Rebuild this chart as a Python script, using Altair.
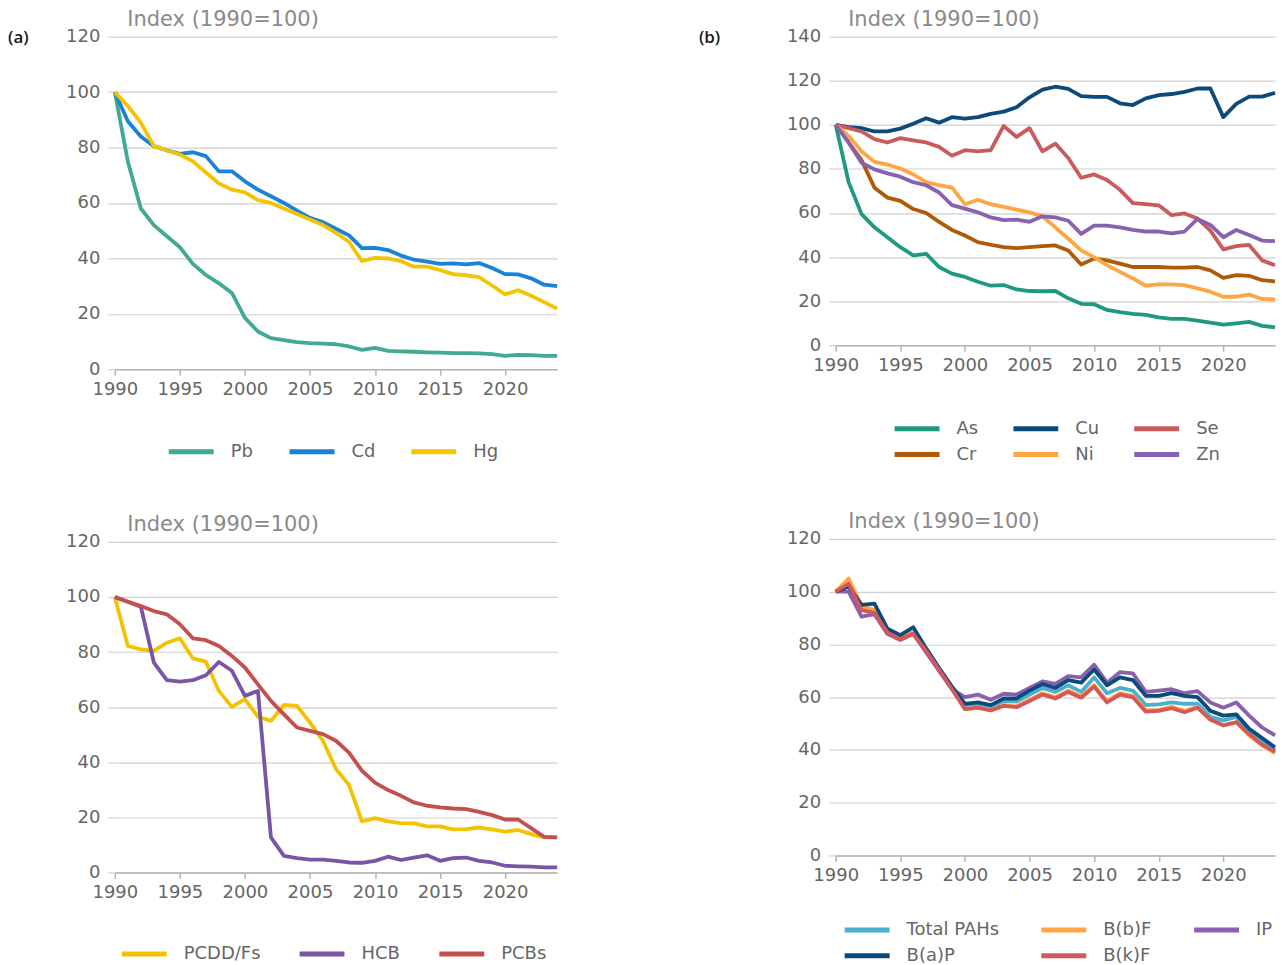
import altair as alt
import pandas as pd

years = list(range(1990, 2025))

# ---------- Panel (a): heavy metals ----------
a_series = ["Pb", "Cd", "Hg"]
a_colors = ["#42a994", "#1a82d9", "#f5c400"]
pb = [100, 75, 58, 52, 48, 44, 38, 34, 31, 27.5, 18.5, 13.6, 11.2, 10.5, 9.8, 9.4, 9.2, 9.0, 8.2, 7.0,
      7.7, 6.6, 6.4, 6.3, 6.1, 6.0, 5.8, 5.8, 5.7, 5.4, 4.8, 5.2, 5.1, 4.8, 4.8]
cd = [100, 89.5, 84, 80.5, 79, 77.7, 78.3, 76.9, 71.4, 71.4, 67.8, 64.8, 62.4, 60, 57.2, 54.6, 53.1, 50.7, 48.3, 43.7,
      43.8, 43, 41, 39.5, 38.8, 38, 38.2, 37.8, 38.3, 36.5, 34.3, 34.2, 32.8, 30.5, 30]
hg = [100, 95, 89, 80.5, 79, 77.5, 75, 71, 67, 64.8, 63.8, 61, 60, 58, 56, 54, 52, 49.2, 46, 39,
      40.2, 40, 39, 37, 37, 35.8, 34.3, 33.9, 33.2, 30.2, 27, 28.5, 26.5, 24.2, 21.8]

# ---------- Panel (b): other metals ----------
b_series = ["As", "Cu", "Se", "Cr", "Ni", "Zn"]
b_colors = ["#1f9a80", "#0d4a7c", "#c95b5d", "#b05a08", "#ffa542", "#8862b0"]
as_ = [100, 74, 59.5, 53.5, 49, 44.5, 40.8, 41.5, 35.5, 32.5, 31, 28.8, 27, 27.3, 25.3, 24.6, 24.5, 24.6, 21.3, 18.8,
       18.6, 16, 15, 14.2, 13.8, 12.6, 12, 12, 11.2, 10.3, 9.3, 9.9, 10.6, 8.8, 8.1]
cu = [100, 99, 98.5, 97, 97, 98.3, 100.5, 103, 101, 103.5, 102.8, 103.5, 105, 106, 108, 112.5, 116, 117.3, 116.3, 113,
      112.7, 112.7, 109.8, 109, 112, 113.5, 114, 115, 116.5, 116.5, 103.5, 109.5, 112.8, 112.8, 114.5]
se = [100, 98.5, 97, 93.5, 92, 94, 93, 92, 90, 86, 88.5, 88, 88.5, 99.5, 94.5, 98.5, 88, 91.5, 85, 76,
      77.5, 75, 70.5, 64.5, 64, 63.5, 59, 59.8, 57.5, 52, 43.5, 45, 45.5, 38.5, 36.3]
cr = [100, 92, 84, 71.5, 67, 65.5, 61.8, 60, 56, 52.3, 49.8, 46.8, 45.6, 44.5, 44.1, 44.5, 45, 45.3, 43, 36.6,
      39.3, 38.5, 37, 35.5, 35.5, 35.5, 35.2, 35.2, 35.5, 34, 30.6, 31.8, 31.5, 29.5, 29]
ni = [100, 95, 88, 83.2, 82, 80.2, 77.5, 74, 72.6, 71.5, 64, 66, 64, 62.8, 61.5, 60.3, 58.5, 53.5, 48.3, 43,
      40, 36.3, 33.3, 30.3, 27, 27.6, 27.6, 27.3, 25.8, 24.3, 22, 22, 23, 21, 20.8]
zn = [100, 92, 82.8, 79.8, 78, 76.5, 74, 72.6, 69.3, 63.6, 62, 60.3, 58, 56.8, 57, 56, 58.5, 58, 56.5, 50.5,
      54.3, 54.3, 53.5, 52.3, 51.6, 51.6, 50.8, 51.6, 57.3, 54.6, 49, 52.3, 50, 47.5, 47.2]

# ---------- Panel (c): POPs ----------
c_series = ["PCDD/Fs", "HCB", "PCBs"]
c_colors = ["#f3c300", "#7a54a6", "#c4504e"]
pcdd = [100, 82.2, 81, 80.4, 83.4, 85, 77.7, 76.5, 65.9, 60.1, 62.9, 56.5, 55, 60.8, 60.5, 54.4, 47.8, 37.5, 31.8, 18.5,
        19.7, 18.5, 17.9, 17.8, 16.7, 16.7, 15.6, 15.7, 16.3, 15.6, 14.8, 15.4, 13.9, 12.7, 12.7]
hcb = [100, 98.3, 96.5, 76.2, 69.8, 69.3, 69.8, 71.6, 76.4, 73.2, 64.1, 65.9, 12.7, 6, 5.2, 4.6, 4.6, 4.2, 3.6, 3.5,
       4.2, 5.7, 4.5, 5.4, 6.2, 4.2, 5.2, 5.4, 4.2, 3.6, 2.4, 2.2, 2.1, 1.8, 1.8]
pcbs = [100, 98.3, 96.7, 94.9, 93.7, 90.1, 85, 84.3, 82.2, 78.6, 74.4, 68.3, 62.3, 57.4, 52.6, 51.4, 50.2, 47.8, 43.5, 36.9,
        32.6, 29.9, 27.8, 25.4, 24.2, 23.6, 23.2, 23, 22, 20.8, 19.2, 19.2, 16.1, 12.9, 12.7]

# ---------- Panel (d): PAHs ----------
d_series = ["Total PAHs", "B(b)F", "IP", "B(a)P", "B(k)F"]
d_colors = ["#4bb0cc", "#ffa542", "#8a60ae", "#0d4a7c", "#d4585a"]
total_pahs = [100, 103, 93, 93, 85, 82.5, 84.5, 78, 71, 63.5, 57, 57.5, 56.5, 58.5, 58.3, 61, 63.5, 62, 64.5, 62,
              67.5, 61.5, 63.5, 62.5, 57, 57.3, 58, 57.5, 57.5, 52.5, 51.2, 52.5, 47, 43.5, 40]
bbf = [100, 105, 94.5, 93, 85, 82.5, 84.5, 77.5, 70.5, 63, 55.5, 56, 55, 57, 56.5, 59, 61.5, 60, 62.5, 60.3,
       64.5, 58.5, 61.5, 60.5, 55, 55.2, 56.3, 54.8, 56.3, 51.5, 49.3, 50.5, 45.5, 41.8, 38.8]
ip = [100, 100, 90.5, 91.5, 84, 81.7, 84, 77, 70, 63, 60, 61, 59, 61.3, 61, 63.5, 66, 65, 68, 67.5,
      72.3, 65.5, 69.5, 69, 62, 62.5, 63, 61.5, 62.3, 58, 56, 58, 53, 48.5, 45.5]
bap = [100, 102, 95, 95.5, 86, 83.5, 86.5, 78.5, 71, 64, 57.5, 58, 57, 59.5, 59.5, 62.5, 65, 63.5, 66.5, 65.5,
       70.5, 64.5, 67.5, 66.5, 60.5, 60.5, 61.5, 60.5, 60, 54.8, 53, 53.5, 48, 44.5, 41]
bkf = [100, 103, 93, 92, 84.5, 82, 84, 77.5, 70.5, 63, 55.5, 56, 55, 56.7, 56.2, 58.5, 61, 59.5, 62, 59.8,
       64, 58, 61, 60, 54.5, 54.8, 55.8, 54.3, 56, 51.5, 49.3, 50.5, 46, 42, 39.3]

x_ticks = [1990, 1995, 2000, 2005, 2010, 2015, 2020]
y_title = "Index (1990=100)"
FONT = "DejaVu Sans"


def long_df(series_names, arrays, field):
    rows = []
    for name, arr in zip(series_names, arrays):
        for yr, v in zip(years, arr):
            rows.append({"year": yr, "value": v, field: name})
    return pd.DataFrame(rows)


def panel(df, field, names, colors, ymax, w, h, lx, ly, cpad, tag=None, tag_x=0):
    line = alt.Chart(df).mark_line(strokeWidth=3.8, strokeJoin="round").encode(
        x=alt.X("year:Q",
                scale=alt.Scale(domain=[1990, 2024], nice=False, zero=False),
                axis=alt.Axis(values=x_ticks, format="d", title=None, grid=False,
                              domain=True, domainColor="#b5b5b5", domainWidth=1.5,
                              ticks=True, tickColor="#b5b5b5", tickSize=6, tickWidth=1.5,
                              labelFont=FONT, labelFontSize=18, labelColor="#666666",
                              labelPadding=5, labelFlush=False)),
        y=alt.Y("value:Q",
                scale=alt.Scale(domain=[0, ymax], nice=False),
                axis=alt.Axis(values=list(range(0, ymax + 1, 20)), title=y_title,
                              titleAngle=0, titleAlign="left", titleBaseline="middle",
                              titleX=12, titleY=-17, titleFont=FONT, titleFontSize=21,
                              titleFontWeight="normal", titleColor="#8a8a8a",
                              domain=False, grid=True, gridColor="#d0d0d0", gridWidth=1.2,
                              ticks=True, tickColor="#d0d0d0", tickSize=7, tickWidth=1.2,
                              labelFont=FONT, labelFontSize=18, labelColor="#666666",
                              labelPadding=8)),
        color=alt.Color(f"{field}:N",
                        scale=alt.Scale(domain=names, range=colors),
                        legend=alt.Legend(orient="none", legendX=lx, legendY=ly,
                                          direction="horizontal", columns=3, title=None,
                                          symbolType="M-2.5,0L2.5,0", symbolSize=324,
                                          symbolStrokeWidth=5, labelFont=FONT,
                                          labelFontSize=18, labelColor="#666666",
                                          labelOffset=28, columnPadding=cpad, rowPadding=4)),
    ).properties(width=w, height=h)
    if tag is None:
        return line
    t = alt.Chart(pd.DataFrame({"t": [tag]})).mark_text(
        align="left", baseline="middle", font="Open Sans", fontSize=17, fontWeight=600,
        color="#1a1a1a").encode(text="t:N", x=alt.value(tag_x), y=alt.value(1))
    return alt.layer(line, t)


pa = panel(long_df(a_series, [pb, cd, hg], "sa"), "sa", a_series, a_colors, 120, 443, 333, 65, 404, 26, "(a)", -107)
pb_ = panel(long_df(b_series, [as_, cu, se, cr, ni, zn], "sb"), "sb", b_series, b_colors, 140, 440, 309, 70, 381, 25, "(b)", -137)
pc = panel(long_df(c_series, [pcdd, hcb, pcbs], "sc"), "sc", c_series, c_colors, 120, 443, 331, 18, 401, 29)
pd_ = panel(long_df(d_series, [total_pahs, bbf, ip, bap, bkf], "sd"), "sd", d_series, d_colors, 120, 440, 317, 20, 380, 32)

left = alt.vconcat(pa, pc, spacing=173, bounds="flush").resolve_scale(
    color="independent", x="independent", y="independent")
right = alt.vconcat(pb_, pd_, spacing=194, bounds="flush").resolve_scale(
    color="independent", x="independent", y="independent")

chart = alt.hconcat(left, right, spacing=722, bounds="flush").resolve_scale(
    color="independent", x="independent", y="independent"
).properties(padding=0, background="white").configure_view(stroke=None)

chart.save("out.html", embed_options={"renderer": "svg", "actions": False})
